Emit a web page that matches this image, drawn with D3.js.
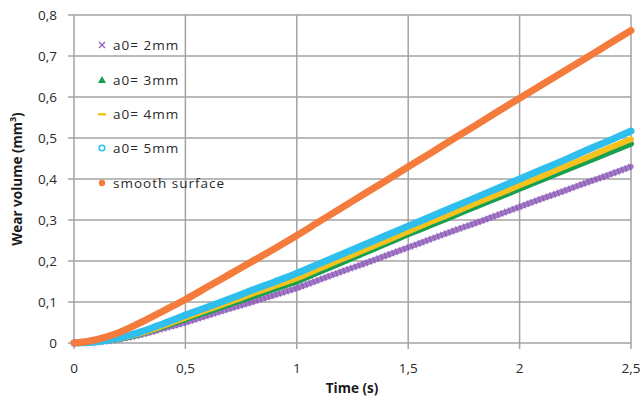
<!DOCTYPE html>
<html><head><meta charset="utf-8">
<script src="https://cdn.jsdelivr.net/npm/d3@7"></script>
<style>
html,body{margin:0;padding:0;background:#fff;}
svg{display:block;}
</style></head>
<body><svg id="chart" width="643" height="403"></svg>
<script>
const time = [0,0.1,0.2,0.3,0.4,0.5,0.6,0.7,0.8,0.9,1.0,1.1,1.2,1.3,1.4,1.5,1.6,1.7,1.8,1.9,2.0,2.1,2.2,2.3,2.4,2.5];
const a0_2mm = [0,.002,.009,.02,.035,.05,.067,.084,.1,.117,.134,.154,.174,.193,.213,.233,.253,.273,.292,.312,.332,.352,.371,.391,.41,.43];
const a0_3mm = [0,.003,.01,.023,.04,.058,.076,.095,.113,.132,.15,.173,.196,.219,.242,.265,.287,.309,.332,.354,.376,.398,.42,.442,.464,.486];
const a0_4mm = [0,.003,.011,.024,.042,.062,.081,.1,.12,.139,.158,.181,.204,.226,.249,.272,.295,.317,.34,.362,.385,.407,.43,.452,.475,.497];
const a0_5mm = [0,.003,.012,.027,.047,.068,.088,.108,.129,.149,.17,.193,.216,.239,.262,.285,.308,.331,.354,.377,.40,.423,.446,.47,.493,.517];
const smooth = [0,.008,.025,.05,.078,.106,.137,.168,.199,.23,.262,.296,.329,.363,.396,.43,.463,.497,.53,.564,.597,.63,.663,.696,.729,.762];
const seriesNames = ["a0= 2mm","a0= 3mm","a0= 4mm","a0= 5mm","smooth surface"];
const seriesColors = ["#9360bd","#18a050","#f7c21c","#2fbfee","#f47b3c"];
const xTicks = [0,0.5,1,1.5,2,2.5];
const yTicks = [0,0.1,0.2,0.3,0.4,0.5,0.6,0.7,0.8];

const allSeries = [a0_2mm,a0_3mm,a0_4mm,a0_5mm,smooth];
const svg = d3.select("#chart");
const L=74, R=631, T=15, B=343;
const x = d3.scaleLinear().domain([0,2.5]).range([L,R]);
const y = d3.scaleLinear().domain([0,0.8]).range([B,T]);
const fmt = d => String(d).replace(".", ",");
const grid = "#a3a3a3";
const font = "'Open Sans', 'Liberation Sans', sans-serif";

svg.append("g").selectAll("line").data(yTicks).join("line")
  .attr("x1", L-6).attr("x2", R).attr("y1", d=>y(d)).attr("y2", d=>y(d))
  .attr("stroke", grid).attr("stroke-width", 1.5);
svg.append("g").selectAll("line").data(xTicks).join("line")
  .attr("x1", d=>x(d)).attr("x2", d=>x(d)).attr("y1", T).attr("y2", B+6)
  .attr("stroke", grid).attr("stroke-width", 1.5);

svg.append("g").selectAll("text").data(yTicks).join("text")
  .attr("x", 57).attr("y", d=>y(d)).attr("dy","0.35em")
  .attr("text-anchor","end").attr("font-family",font).attr("font-size",13.5)
  .attr("fill","#2a2a2a").text(fmt);
svg.append("g").selectAll("text").data(xTicks).join("text")
  .attr("x", d=>x(d)).attr("y", 368).attr("dy","0.35em")
  .attr("text-anchor","middle").attr("font-family",font).attr("font-size",13.5)
  .attr("fill","#2a2a2a").text(fmt);

svg.append("text").attr("x", 352).attr("y", 393).attr("text-anchor","middle")
  .attr("font-family",font).attr("font-size",13.5).attr("font-weight","bold")
  .attr("fill","#1a1a1a").text("Time (s)");
const yt = svg.append("text").attr("transform","translate(22,179) rotate(-90)")
  .attr("text-anchor","middle").attr("font-family",font).attr("font-size",13.5)
  .attr("font-weight","bold").attr("fill","#1a1a1a");
yt.append("tspan").text("Wear volume (mm");
yt.append("tspan").attr("font-size",9).attr("dy",-6).text("3");
yt.append("tspan").attr("dy",6).text(")");

const line = d3.line().x((d,i)=>x(time[i])).y(d=>y(d)).curve(d3.curveMonotoneX);
const widths = [5.5,6,6,7,7];
allSeries.forEach((s,k)=>{
  svg.append("path").datum(s).attr("d", line).attr("fill","none")
    .attr("stroke", seriesColors[k]).attr("stroke-width", widths[k])
    .attr("stroke-linecap","round").attr("stroke-linejoin","round")
    .attr("opacity", k===0 ? 0.85 : 1);
  if (k===0) {
    svg.append("path").datum(s).attr("d", line).attr("fill","none")
      .attr("stroke", "#7a45a8").attr("stroke-width", 7.5)
      .attr("stroke-dasharray","1,3").attr("opacity",0.6);
  }
});

const legY = [45,80,114,148,183];
const lg = svg.append("g");
seriesNames.forEach((n,k)=>{
  const cy = legY[k], cx = 102, c = seriesColors[k];
  if (k===0) {
    lg.append("path").attr("d",`M${cx-3},${cy-3}L${cx+3},${cy+3}M${cx-3},${cy+3}L${cx+3},${cy-3}`)
      .attr("stroke",c).attr("stroke-width",1.3);
  } else if (k===1) {
    lg.append("path").attr("d",`M${cx},${cy-4}L${cx+4},${cy+3}L${cx-4},${cy+3}Z`).attr("fill",c);
  } else if (k===2) {
    lg.append("rect").attr("x",cx-4).attr("y",cy-1).attr("width",8).attr("height",2.5).attr("fill",c);
  } else if (k===3) {
    lg.append("circle").attr("cx",cx).attr("cy",cy).attr("r",2.8).attr("fill","none").attr("stroke",c).attr("stroke-width",1.6);
  } else {
    lg.append("circle").attr("cx",cx).attr("cy",cy).attr("r",3.2).attr("fill",c);
  }
  lg.append("text").attr("x",113).attr("y",cy).attr("dy","0.35em")
    .attr("font-family",font).attr("font-size",13.5).attr("letter-spacing","1px")
    .attr("fill","#2a2a2a").text(n);
});
</script></body></html>
